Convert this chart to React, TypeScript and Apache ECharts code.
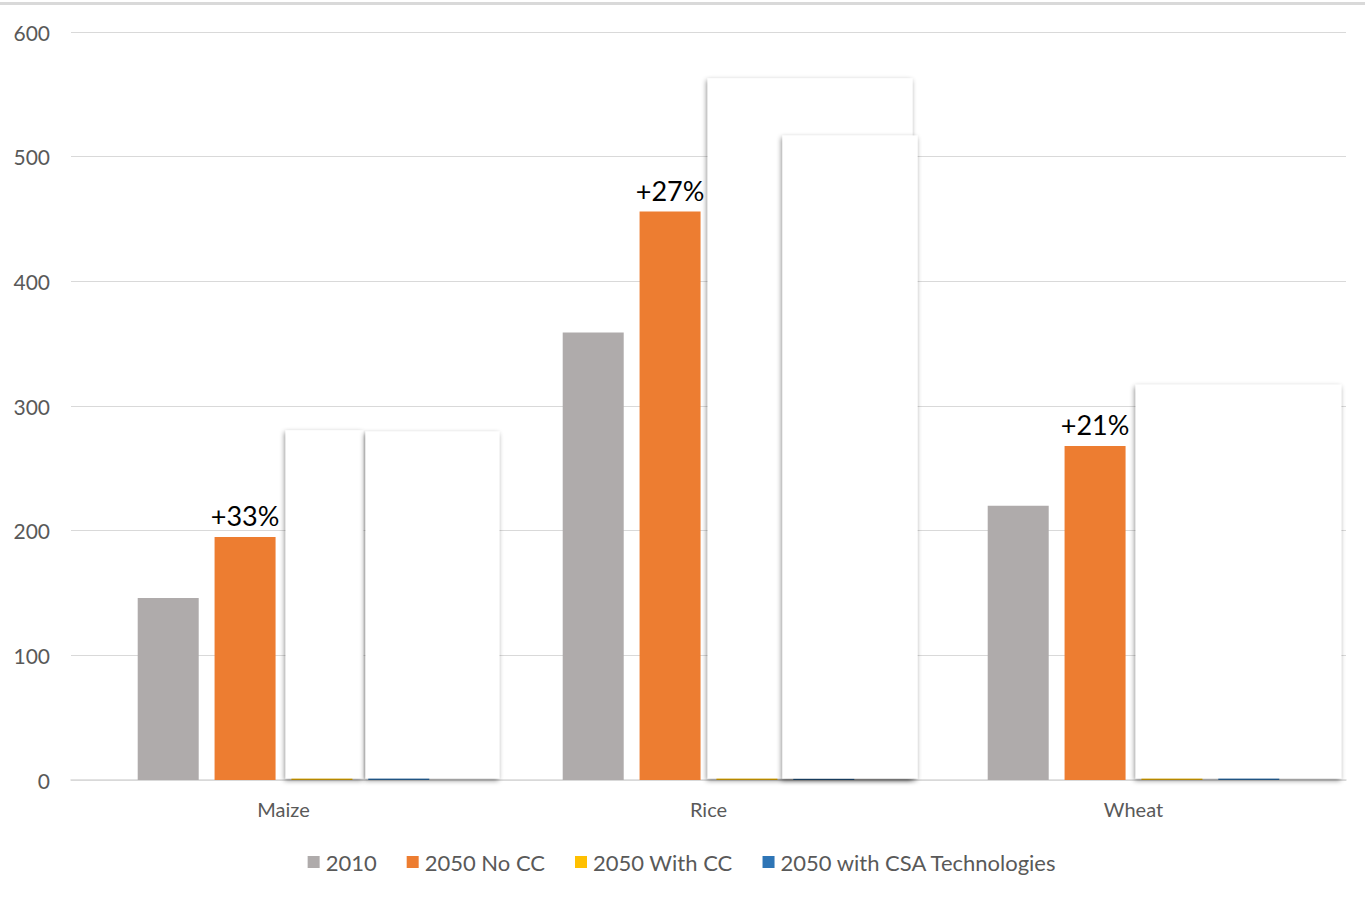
import React, { useEffect, useRef } from "react";
import * as echarts from "echarts";

const categories = ["Maize", "Rice", "Wheat"];
const y2010 = [146, 359, 220];
const y2050NoCC = [195, 456, 268];
const y2050WithCC = [270, 540, 300];
const y2050CSA = [275, 500, 305];
const changeLabels = ["+33%", "+27%", "+21%"];
const seriesNames = ["2010", "2050 No CC", "2050 With CC", "2050 with CSA Technologies"];
const yTicks = [0, 100, 200, 300, 400, 500, 600];

// white overlay boxes: [categoryIndex, topValue, leftFraction, rightFraction]
const masks = [
  [0, 280.5, 0.005, 0.188],
  [0, 279.5, 0.193, 0.508],
  [1, 563, -0.002, 0.48],
  [1, 517, 0.174, 0.492],
  [2, 317, 0.005, 0.489],
];

const colors = ["#AFABAB", "#ED7D31", "#FFC000", "#2E75B6"];
const FONT = "Lato, 'Open Sans', sans-serif";

export default function App() {
  const ref = useRef<HTMLDivElement>(null);
  useEffect(() => {
    const chart = echarts.init(ref.current!, null, { renderer: "svg" });
    const values = [y2010, y2050NoCC, y2050WithCC, y2050CSA];
    chart.setOption({
      animation: false,
      backgroundColor: "#ffffff",
      textStyle: { fontFamily: FONT },
      color: colors,
      grid: { left: 71, right: 19, top: 32, bottom: 121, containLabel: false },
      legend: {
        data: seriesNames,
        bottom: 23,
        left: "center",
        itemWidth: 12,
        itemHeight: 12,
        itemGap: 30,
        icon: "rect",
        textStyle: { color: "#595959", fontSize: 22, fontFamily: FONT, padding: [0, 0, 0, 1] },
      },
      xAxis: {
        type: "category",
        data: categories,
        axisTick: { show: false },
        axisLine: { lineStyle: { color: "#d9d9d9", width: 1.5 } },
        axisLabel: { color: "#595959", fontSize: 20, margin: 19, fontFamily: FONT },
      },
      yAxis: {
        type: "value",
        min: yTicks[0],
        max: yTicks[yTicks.length - 1],
        interval: 100,
        axisLine: { show: false },
        axisTick: { show: false },
        splitLine: { lineStyle: { color: "#d9d9d9", width: 1.2 } },
        axisLabel: { color: "#595959", fontSize: 21, margin: 21, fontFamily: FONT },
      },
      graphic: [
        {
          type: "rect",
          shape: { x: 0, y: 2, width: 1365, height: 3 },
          style: { fill: "#d9d9d9" },
          silent: true,
        },
      ],
      series: [
        ...seriesNames.map((name, i) => ({
          name,
          type: "bar",
          data: values[i],
          barWidth: 61,
          barGap: "26%",
          barCategoryGap: "31%",
          itemStyle: { color: colors[i] },
          label:
            i === 1
              ? {
                  show: true,
                  position: "top",
                  distance: 8,
                  formatter: (p: any) => changeLabels[p.dataIndex],
                  color: "#000000",
                  fontSize: 27,
                  fontFamily: FONT,
                }
              : { show: false },
          z: 2,
        })),
        {
          name: "masks",
          type: "custom",
          z: 5,
          silent: true,
          data: masks,
          renderItem: (params: any, api: any) => {
            const cat = api.value(0);
            const top = api.value(1);
            const lf = api.value(2);
            const rf = api.value(3);
            const band = api.size([1, 0])[0];
            const cx = api.coord([cat, 0])[0];
            const yTop = api.coord([cat, top])[1];
            const yBot = api.coord([cat, 1.3])[1];
            return {
              type: "rect",
              shape: { x: cx + lf * band, y: yTop, width: (rf - lf) * band, height: yBot - yTop },
              style: {
                fill: "#ffffff",
                shadowBlur: 5,
                shadowOffsetX: -1,
                shadowOffsetY: 2,
                shadowColor: "rgba(0,0,0,0.45)",
              },
            };
          },
        },
      ],
    });
    return () => chart.dispose();
  }, []);
  return (
    <div
      ref={ref}
      style={{ position: "fixed", left: 0, top: 0, width: 1365, height: 901, background: "#fff" }}
    />
  );
}
